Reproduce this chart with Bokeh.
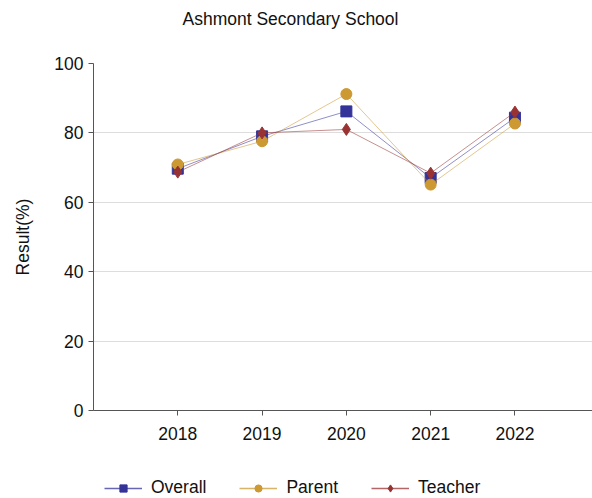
from bokeh.plotting import figure
from bokeh.models import Legend, LegendItem, Range1d, FixedTicker, Label
from bokeh.layouts import column
from bokeh.embed import file_html
from bokeh.resources import INLINE

title_text = "Ashmont Secondary School"
years = [2018, 2019, 2020, 2021, 2022]
overall = [69.7, 79.0, 86.2, 67.0, 84.4]
parent = [70.9, 77.6, 91.2, 65.1, 82.7]
teacher = [68.7, 80.0, 81.0, 68.4, 86.0]
y_ticks = [0, 20, 40, 60, 80, 100]

FONT = "Liberation Sans"
W = 592


def bare(h):
    f = figure(width=W, height=h, output_backend="svg", toolbar_location=None,
               x_axis_type=None, y_axis_type=None, title=None,
               x_range=Range1d(0, W), y_range=Range1d(0, h),
               min_border=0, min_border_left=0, min_border_right=0,
               min_border_top=0, min_border_bottom=0)
    f.outline_line_color = None
    f.xgrid.visible = False
    f.ygrid.visible = False
    return f


# title strip (frames are aligned with the main plot's frame, which starts at x=93)
t = bare(40)
t.add_layout(Label(x=197, y=22, x_units="screen", y_units="screen", text=title_text,
                   text_font=FONT, text_font_size="17.5px", text_color="#111111",
                   text_align="center", text_baseline="middle"))

# main plot
p = figure(width=W, height=418, output_backend="svg", toolbar_location=None, title=None,
           x_range=Range1d(2017, 2022.92), y_range=Range1d(0, 100),
           min_border_left=93, min_border_right=0, min_border_top=23, min_border_bottom=48)
p.outline_line_color = None
p.xaxis.ticker = FixedTicker(ticks=years)
p.yaxis.ticker = FixedTicker(ticks=y_ticks)
p.xgrid.grid_line_color = None
p.ygrid.grid_line_color = "#dddddd"
for ax in (p.xaxis[0], p.yaxis[0]):
    ax.major_label_text_font = FONT
    ax.major_label_text_font_size = "17.5px"
    ax.major_label_text_color = "#111111"
    ax.axis_line_color = "#555555"
    ax.major_tick_line_color = "#555555"
    ax.minor_tick_line_color = None
    ax.major_tick_out = 5
    ax.major_tick_in = 0
p.yaxis.axis_label = "Result(%)"
p.yaxis.axis_label_text_font = FONT
p.yaxis.axis_label_text_font_size = "17.5px"
p.yaxis.axis_label_text_font_style = "normal"
p.yaxis.axis_label_text_color = "#111111"
p.yaxis.axis_label_standoff = 18
p.xaxis.major_label_standoff = 11

specs = [
    ("Overall", overall, "#333399", "square", 11),
    ("Parent", parent, "#CC9933", "circle", 11),
    ("Teacher", teacher, "#993333", "diamond", 12),
]

# legend strip: same series drawn there fall outside its range, only the legend shows
lg = bare(40)
items = []
for name, vals, col, mk, sz in specs:
    p.line(years, vals, line_color=col, line_alpha=0.55, line_width=1)
    p.scatter(years, vals, marker=mk, size=sz, fill_color=col, line_color=col)
    l2 = lg.line(years, vals, line_color=col, line_alpha=0.75, line_width=1.3)
    s2 = lg.scatter(years, vals, marker=mk, size=8, fill_color=col, line_color=col)
    items.append(LegendItem(label=name, renderers=[l2, s2]))

legend = Legend(items=items, orientation="horizontal", location=(11, 0),
                label_text_font=FONT, label_text_font_size="17.5px", label_text_color="#111111",
                glyph_width=38, glyph_height=18, spacing=33, border_line_color=None,
                background_fill_alpha=0, margin=0, padding=0, label_standoff=9)
lg.add_layout(legend, "center")

layout = column(t, p, lg, spacing=0)
open("out.html", "w").write(file_html(layout, INLINE))
